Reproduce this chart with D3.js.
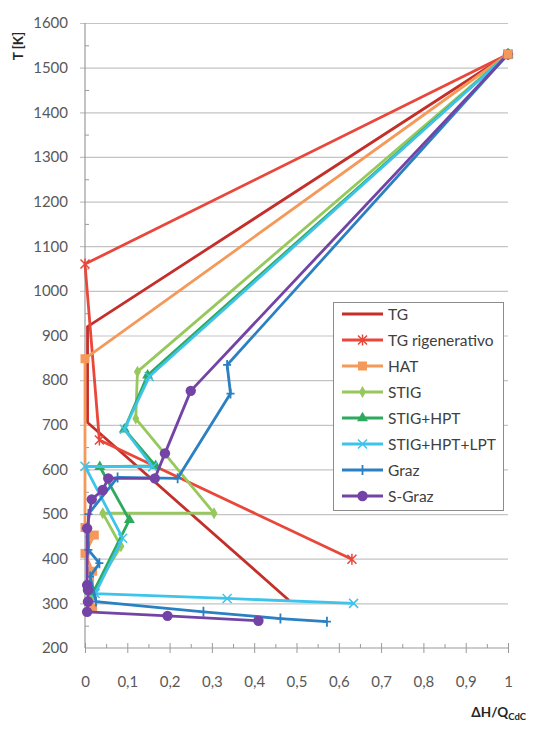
<!DOCTYPE html>
<html>
<head>
<meta charset="utf-8">
<script src="https://cdn.jsdelivr.net/npm/d3@7/dist/d3.min.js"></script>
<style>
  html, body { margin: 0; padding: 0; background: #fff; }
  svg { display: block; }
  text { font-family: Lato, "Open Sans", sans-serif; }
</style>
</head>
<body>
<svg id="chart" width="539" height="731"></svg>
<script>
// Temperature vs. cumulative heat fraction for each cycle configuration
const seriesNames = ["TG", "TG rigenerativo", "HAT", "STIG", "STIG+HPT", "STIG+HPT+LPT", "Graz", "S-Graz"];

// [ΔH/Q_CdC, T in K]
const tg      = [[1,1530],[0.006,920],[0.006,705],[0.482,307]];
const tgRig   = [[1,1530],[0,1060],[0.034,666],[0.631,399]];
const hat     = [[1,1530],[0,848],[0,470],[0.022,453],[0,412],[0.018,372],[0.018,290]];
const stig    = [[1,1530],[0.124,819],[0.12,714],[0.305,502],[0.042,502],[0.085,428],[0.015,320]];
const stigHpt = [[1,1530],[0.148,811],[0.093,690],[0.167,608],[0.035,606],[0.105,487],[0.02,325]];
const stigHptLpt = [[1,1530],[0.152,808],[0.093,690],[0.16,606],[0,607],[0.089,446],[0.024,322],[0.336,311],[0.635,300]];
const graz    = [[1,1530],[0.336,834],[0.344,770],[0.219,580],[0.077,582],[0.008,500],[0.008,420],[0.034,390],[0.012,360],[0.026,304],[0.28,281],[0.462,266],[0.572,259]];
const sGraz   = [[1,1530],[0.25,776],[0.189,636],[0.165,580],[0.055,580],[0.042,554],[0.016,533],[0.005,468],[0.005,341],[0.007,330],[0.007,304],[0.005,281],[0.195,272],[0.41,261]];

const xTicks = [0,0.1,0.2,0.3,0.4,0.5,0.6,0.7,0.8,0.9,1];
const yTicks = [200,300,400,500,600,700,800,900,1000,1100,1200,1300,1400,1500,1600];

const seriesData = [tg, tgRig, hat, stig, stigHpt, stigHptLpt, graz, sGraz];
const colors  = ["#C42F2A", "#E8473A", "#F5995A", "#96C85C", "#2DAA5E", "#3EC3EA", "#2A80C2", "#7443A6"];
const markers = ["none", "asterisk", "square", "diamond", "triangle", "cross", "plus", "circle"];

const svg = d3.select("#chart");
const x = d3.scaleLinear().domain([0, 1]).range([85, 508]);
const y = d3.scaleLinear().domain([200, 1600]).range([648, 23]);

const axisGray = "#9A9A9A";
const gridGray = "#C4C4C4";
const labelGray = "#595959";
const tickFont = "15px";

// horizontal gridlines (extend a few px left of the axis as cross ticks)
const grid = svg.append("g").attr("transform", "translate(80,0)")
  .call(d3.axisLeft(y).tickValues(yTicks.slice(1)).tickSize(-(508 - 80)).tickFormat(""));
grid.select(".domain").remove();
grid.selectAll("line").attr("stroke", gridGray).attr("stroke-width", 1.2);

// y axis line + minor ticks
svg.append("line").attr("x1", x(0)).attr("x2", x(0)).attr("y1", y(1600)).attr("y2", y(200))
  .attr("stroke", axisGray).attr("stroke-width", 1.2);
const yMinor = d3.range(250, 1600, 100);
const yMinorAxis = svg.append("g").attr("transform", `translate(${x(0)},0)`)
  .call(d3.axisRight(y).tickValues(yMinor).tickSize(4).tickFormat(""));
yMinorAxis.select(".domain").remove();
yMinorAxis.selectAll("line").attr("stroke", axisGray);

// y labels
const yLab = svg.append("g").attr("transform", "translate(68,0)")
  .call(d3.axisLeft(y).tickValues(yTicks).tickSize(0).tickPadding(0).tickFormat(d3.format("d")));
yLab.select(".domain").remove();
yLab.selectAll("text").attr("fill", labelGray).style("font-size", tickFont)
  .style("font-family", "Lato, 'Open Sans', sans-serif");

// x axis: line, crossing major ticks, inside minor ticks
svg.append("line").attr("x1", x(0)).attr("x2", x(1)).attr("y1", y(200)).attr("y2", y(200))
  .attr("stroke", axisGray).attr("stroke-width", 1.2);
const xMajor = svg.append("g").attr("transform", `translate(0,${y(200) - 5})`)
  .call(d3.axisBottom(x).tickValues(xTicks).tickSize(10).tickFormat(""));
xMajor.select(".domain").remove();
xMajor.selectAll("line").attr("stroke", axisGray);
const xMinor = svg.append("g").attr("transform", `translate(0,${y(200) - 4})`)
  .call(d3.axisBottom(x).tickValues(d3.range(0.05, 1, 0.1)).tickSize(4).tickFormat(""));
xMinor.select(".domain").remove();
xMinor.selectAll("line").attr("stroke", axisGray);

const commaFmt = d => String(+d.toFixed(1)).replace(".", ",");
const xLab = svg.append("g").attr("transform", `translate(0,${y(200) + 28})`)
  .call(d3.axisBottom(x).tickValues(xTicks).tickSize(0).tickPadding(0).tickFormat(commaFmt));
xLab.select(".domain").remove();
xLab.selectAll("text").attr("fill", labelGray).style("font-size", tickFont)
  .style("font-family", "Lato, 'Open Sans', sans-serif");

// axis titles
svg.append("text").attr("transform", "translate(23,46) rotate(-90)")
  .attr("text-anchor", "middle").attr("fill", "#262626")
  .style("font-size", "13.5px").style("font-weight", "bold").text("T [K]");
const xt = svg.append("text").attr("x", 526).attr("y", 717).attr("text-anchor", "end")
  .attr("fill", "#262626").style("font-size", "13.5px").style("font-weight", "bold");
xt.append("tspan").text("ΔH/Q");
xt.append("tspan").attr("dy", 3).style("font-size", "9.5px").text("CdC");

// marker drawing
function drawMarker(g, type, color, cx, cy) {
  const s = 4.5;
  if (type === "none") return;
  if (type === "circle") {
    g.append("circle").attr("cx", cx).attr("cy", cy).attr("r", 5.2).attr("fill", color);
  } else if (type === "square") {
    g.append("rect").attr("x", cx - 4.5).attr("y", cy - 4.5).attr("width", 9).attr("height", 9).attr("fill", color);
  } else if (type === "diamond") {
    g.append("path").attr("transform", `translate(${cx},${cy})`)
      .attr("d", d3.symbol(d3.symbolDiamond, 42)()).attr("fill", color);
  } else if (type === "triangle") {
    g.append("path").attr("transform", `translate(${cx},${cy})`)
      .attr("d", d3.symbol(d3.symbolTriangle, 52)()).attr("fill", color);
  } else if (type === "cross") {
    g.append("path").attr("d", `M${cx - s},${cy - s}L${cx + s},${cy + s}M${cx - s},${cy + s}L${cx + s},${cy - s}`)
      .attr("stroke", color).attr("stroke-width", 1.5);
  } else if (type === "asterisk") {
    g.append("path").attr("d", `M${cx - s},${cy - s}L${cx + s},${cy + s}M${cx - s},${cy + s}L${cx + s},${cy - s}M${cx},${cy - s - 1}L${cx},${cy + s + 1}`)
      .attr("stroke", color).attr("stroke-width", 1.5);
  } else if (type === "plus") {
    g.append("path").attr("d", `M${cx - 4},${cy}L${cx + 4},${cy}M${cx},${cy - 5}L${cx},${cy + 5}`)
      .attr("stroke", color).attr("stroke-width", 1.8);
  }
}

// series lines + markers
const line = d3.line().x(d => x(d[0])).y(d => y(d[1]));
seriesData.forEach((data, i) => {
  const g = svg.append("g");
  g.append("path").datum(data).attr("d", line).attr("fill", "none")
    .attr("stroke", colors[i]).attr("stroke-width", 2.8).attr("stroke-linejoin", "round");
  data.forEach(d => drawMarker(g, markers[i], colors[i], x(d[0]), y(d[1])));
});

// shared end point: the HAT and STIG+HPT markers sit on top
[4, 2].forEach(i => {
  const d = seriesData[i][0];
  drawMarker(svg.append("g"), markers[i], colors[i], x(d[0]), y(d[1]));
});

// legend
const lg = svg.append("g");
lg.append("rect").attr("x", 333.5).attr("y", 302.5).attr("width", 170).attr("height", 208)
  .attr("fill", "#fff").attr("stroke", "#8C8C8C").attr("stroke-width", 1);
seriesNames.forEach((name, i) => {
  const ly = 314 + i * 26;
  lg.append("line").attr("x1", 342).attr("x2", 383).attr("y1", ly).attr("y2", ly)
    .attr("stroke", colors[i]).attr("stroke-width", 2.8);
  drawMarker(lg, markers[i], colors[i], 362.5, ly);
  lg.append("text").attr("x", 388).attr("y", ly + 5.5).attr("fill", "#404040")
    .style("font-size", "15.5px").text(name);
});
</script>
</body>
</html>
